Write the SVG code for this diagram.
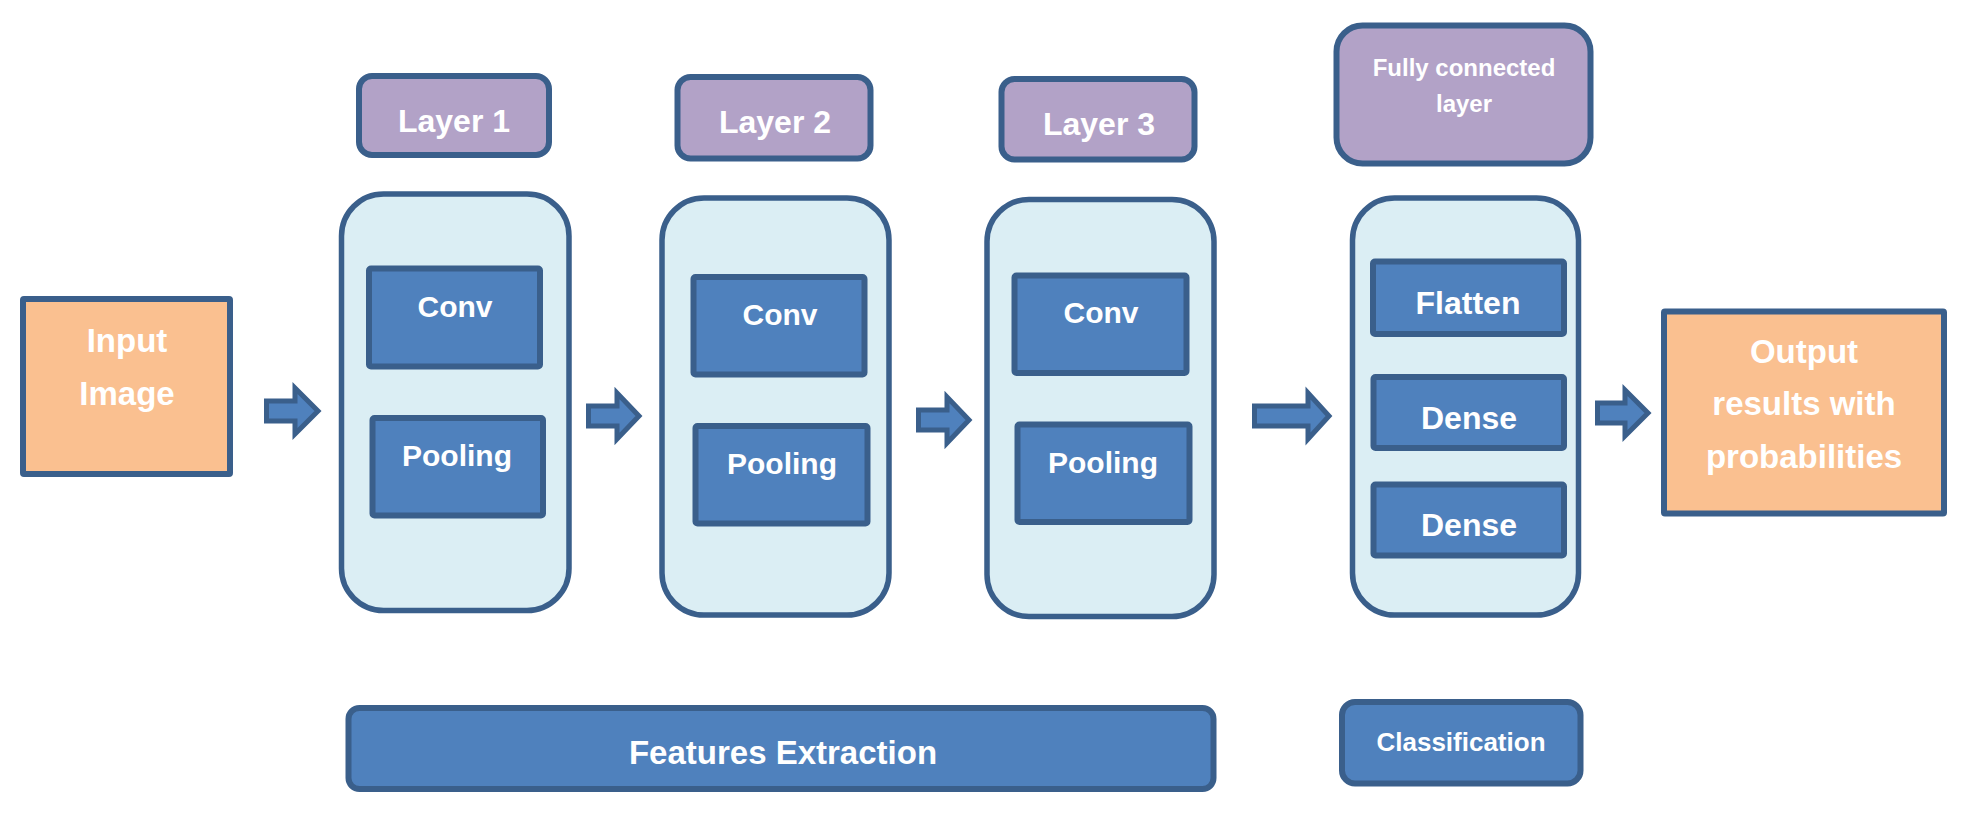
<svg xmlns="http://www.w3.org/2000/svg" width="1964" height="817" viewBox="0 0 1964 817">
<style>
  .io { fill: #FAC090; stroke: #3A5F8B; stroke-width: 6; }
  .layer { fill: #B2A2C7; stroke: #3A5F8B; stroke-width: 6; }
  .cont { fill: #DBEEF4; stroke: #3A5F8B; stroke-width: 5.5; }
  .op { fill: #4F81BD; stroke: #3A5F8B; stroke-width: 6; }
  .arrow { fill: #4F81BD; stroke: #3A5F8B; stroke-width: 5; stroke-linejoin: miter; }
  text { font-family: "Liberation Sans", Arial, sans-serif; font-weight: bold; fill: #FFFFFF; text-anchor: middle; }
  .t33 { font-size: 33px; }
  .t32 { font-size: 32px; }
  .t30 { font-size: 30px; }
  .t26 { font-size: 26px; }
  .t24 { font-size: 24px; }
</style>
<rect width="1964" height="817" fill="#FFFFFF"/>

<g id="connectors">
  <polygon class="arrow" points="266.5,401 295,401 295,388 318,411 295,434 295,421 266.5,421"/>
  <polygon class="arrow" points="588.5,406 617,406 617,393 639,416 617,439 617,426 588.5,426"/>
  <polygon class="arrow" points="918.5,410 947,410 947,397 969,420 947,443 947,430 918.5,430"/>
  <polygon class="arrow" points="1254.5,406 1308,406 1308,393 1329,416 1308,439 1308,426 1254.5,426"/>
  <polygon class="arrow" points="1597.5,403 1625,403 1625,390 1648,413 1625,436 1625,423 1597.5,423"/>
</g>

<g id="input-image">
  <rect class="io" x="23" y="299" width="207" height="175" rx="1"/>
  <text class="t33" x="127" y="352">Input</text>
  <text class="t33" x="127" y="405">Image</text>
</g>

<g id="layer1-label">
  <rect class="layer" x="359" y="76" width="190" height="79" rx="13"/>
  <text class="t32" x="454" y="132">Layer 1</text>
</g>
<g id="layer2-label">
  <rect class="layer" x="677.5" y="77" width="193" height="81.5" rx="13"/>
  <text class="t32" x="775" y="133">Layer 2</text>
</g>
<g id="layer3-label">
  <rect class="layer" x="1001.5" y="79" width="193" height="80.5" rx="13"/>
  <text class="t32" x="1099" y="135">Layer 3</text>
</g>
<g id="fc-label">
  <rect class="layer" x="1336.5" y="25.5" width="254" height="138" rx="26"/>
  <text class="t24" x="1464" y="76">Fully connected</text>
  <text class="t24" x="1464" y="112">layer</text>
</g>

<g id="layer1">
  <rect class="cont" x="341.5" y="194" width="227.5" height="416.5" rx="42"/>
  <g id="conv1">
    <rect class="op" x="369" y="268.5" width="171" height="98" rx="2"/>
    <text class="t30" x="455" y="317">Conv</text>
  </g>
  <g id="pool1">
    <rect class="op" x="372.5" y="418" width="170.5" height="97.5" rx="2"/>
    <text class="t30" x="457" y="466">Pooling</text>
  </g>
</g>

<g id="layer2">
  <rect class="cont" x="662" y="198" width="227" height="417" rx="42"/>
  <g id="conv2">
    <rect class="op" x="693.5" y="277" width="171" height="97.5" rx="2"/>
    <text class="t30" x="780" y="325">Conv</text>
  </g>
  <g id="pool2">
    <rect class="op" x="695.5" y="426" width="172" height="97.5" rx="2"/>
    <text class="t30" x="782" y="473.5">Pooling</text>
  </g>
</g>

<g id="layer3">
  <rect class="cont" x="987" y="199.5" width="227" height="417" rx="42"/>
  <g id="conv3">
    <rect class="op" x="1014.5" y="275.5" width="172" height="97.5" rx="2"/>
    <text class="t30" x="1101" y="323">Conv</text>
  </g>
  <g id="pool3">
    <rect class="op" x="1017.5" y="424.5" width="172" height="97.5" rx="2"/>
    <text class="t30" x="1103" y="472.5">Pooling</text>
  </g>
</g>

<g id="fc-layer">
  <rect class="cont" x="1352.5" y="198" width="226" height="417" rx="42"/>
  <g id="flatten">
    <rect class="op" x="1373" y="261.5" width="191" height="72.5" rx="2"/>
    <text class="t32" x="1468" y="314">Flatten</text>
  </g>
  <g id="dense1">
    <rect class="op" x="1373.5" y="377" width="190.5" height="71" rx="2"/>
    <text class="t32" x="1469" y="429">Dense</text>
  </g>
  <g id="dense2">
    <rect class="op" x="1373.5" y="484.5" width="190.5" height="71" rx="2"/>
    <text class="t32" x="1469" y="536">Dense</text>
  </g>
</g>

<g id="output">
  <rect class="io" x="1664" y="311.5" width="280" height="202" rx="1"/>
  <text class="t33" x="1804" y="363">Output</text>
  <text class="t33" x="1804" y="415">results with</text>
  <text class="t33" x="1804" y="468">probabilities</text>
</g>

<g id="features-extraction">
  <rect class="op" x="348.5" y="708" width="865" height="81" rx="11"/>
  <text class="t33" x="783" y="764">Features Extraction</text>
</g>

<g id="classification">
  <rect class="op" x="1342" y="702" width="238.5" height="81.5" rx="13"/>
  <text class="t26" x="1461" y="751">Classification</text>
</g>
</svg>
